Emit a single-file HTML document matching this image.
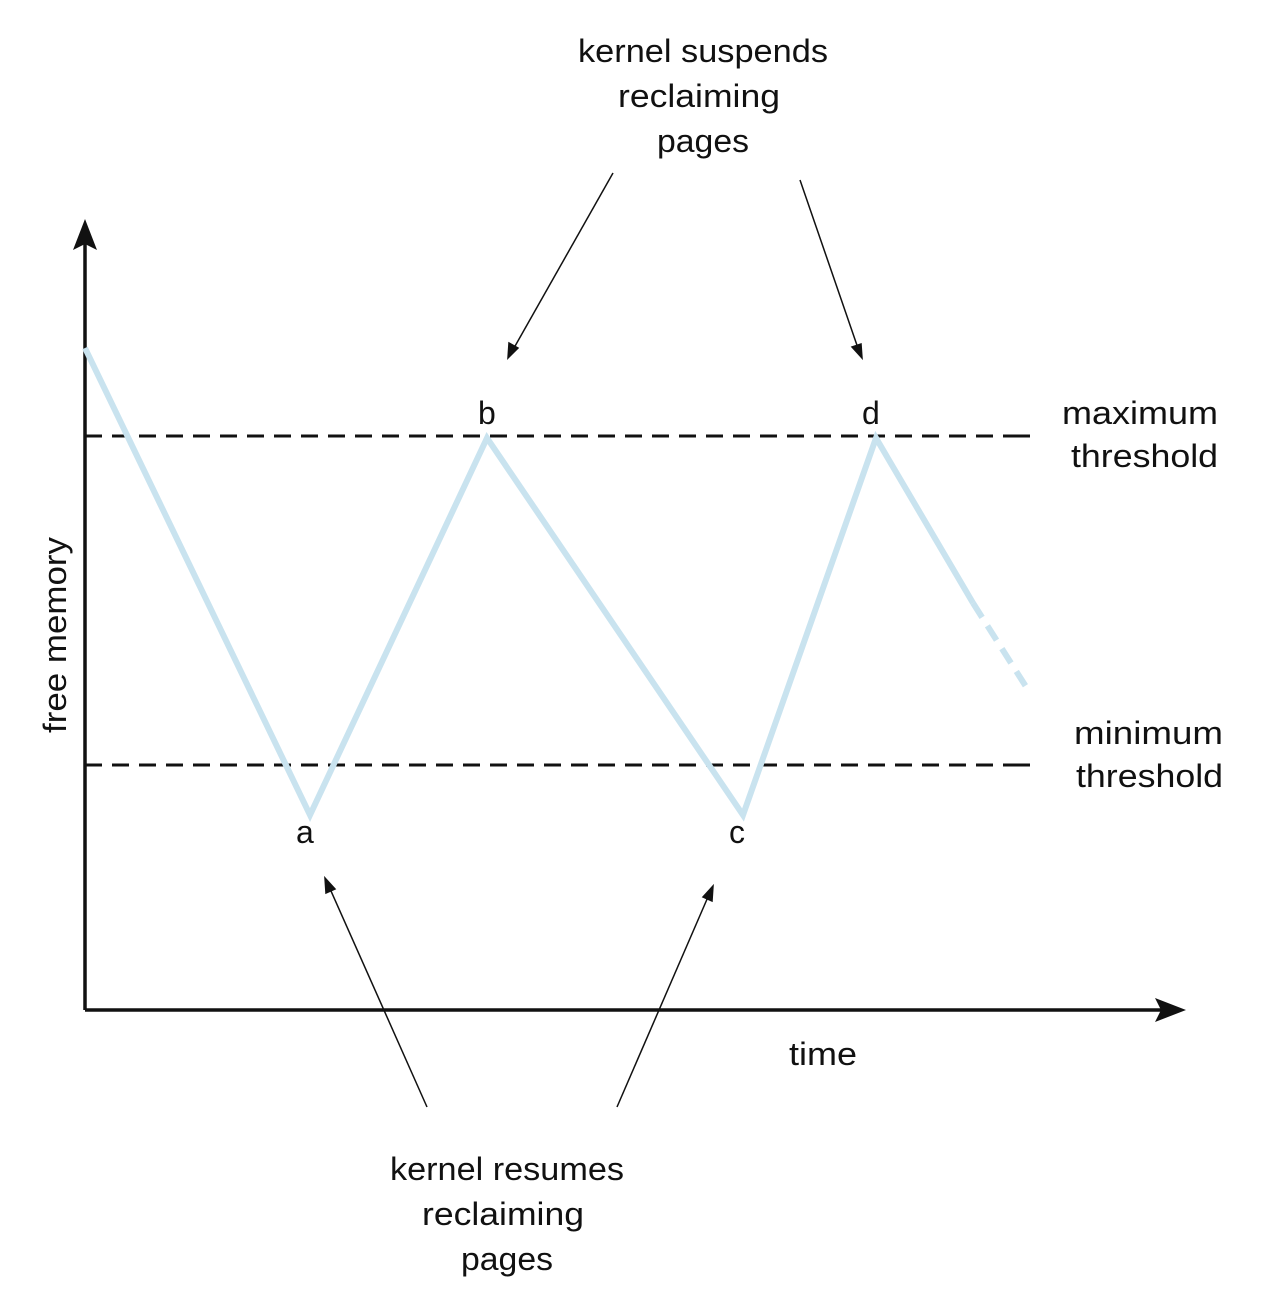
<!DOCTYPE html>
<html><head><style>body{margin:0;background:#fff}svg{display:block}text{font-family:"Liberation Sans",sans-serif;font-size:32px;fill:#111}</style></head>
<body>
<svg width="1270" height="1312" viewBox="0 0 1270 1312">
<g stroke="#111" stroke-width="3.5" fill="none">
<line x1="85" y1="1010" x2="85" y2="240"/>
<line x1="85" y1="1010" x2="1165" y2="1010"/>
</g>
<path d="M85,219 L97,250 L85,244 L73,250z" fill="#111"/>
<path d="M1186,1010 L1155,998 L1161,1010 L1155,1022z" fill="#111"/>
<g stroke="#111" stroke-width="3" stroke-dasharray="17,10">
<line x1="85" y1="436" x2="1030" y2="436"/>
<line x1="85" y1="765" x2="1030" y2="765"/>
<line x1="1018" y1="436" x2="1030" y2="436" stroke-dasharray="none"/>
<line x1="1018" y1="765" x2="1030" y2="765" stroke-dasharray="none"/>
</g>
<g stroke="#c9e3ef" stroke-width="6" fill="none">
<polyline points="85,348 310,815 487,438 743,815 876,438 973,603"/>
<line x1="973" y1="603" x2="1030" y2="693" stroke-dasharray="17,10"/>
</g>
<g stroke="#111" stroke-width="1.5">
<line x1="613" y1="173" x2="510" y2="355"/>
<path d="M508,358 L509,343 L518,348z" fill="#111"/>
<line x1="800" y1="180" x2="860" y2="354"/>
<path d="M862,358 L852,347 L861,344z" fill="#111"/>
<line x1="427" y1="1107" x2="327" y2="882"/>
<path d="M325,878 L335,889 L326,893z" fill="#111"/>
<line x1="617" y1="1107" x2="711" y2="890"/>
<path d="M713,886 L712,901 L703,897z" fill="#111"/>
</g>
<g lengthAdjust="spacingAndGlyphs">
<text x="478" y="424">b</text>
<text x="862" y="424">d</text>
<text x="296" y="843">a</text>
<text x="729" y="843">c</text>
<text x="1062" y="424" textLength="156" lengthAdjust="spacingAndGlyphs">maximum</text>
<text x="1071" y="467" textLength="147" lengthAdjust="spacingAndGlyphs">threshold</text>
<text x="1074" y="744" textLength="149" lengthAdjust="spacingAndGlyphs">minimum</text>
<text x="1076" y="787" textLength="147" lengthAdjust="spacingAndGlyphs">threshold</text>
<text x="578" y="62" textLength="250" lengthAdjust="spacingAndGlyphs">kernel suspends</text>
<text x="618" y="107" textLength="162" lengthAdjust="spacingAndGlyphs">reclaiming</text>
<text x="657" y="152" textLength="92" lengthAdjust="spacingAndGlyphs">pages</text>
<text x="390" y="1180" textLength="234" lengthAdjust="spacingAndGlyphs">kernel resumes</text>
<text x="422" y="1225" textLength="162" lengthAdjust="spacingAndGlyphs">reclaiming</text>
<text x="461" y="1270" textLength="92" lengthAdjust="spacingAndGlyphs">pages</text>
<text x="789" y="1065" textLength="68" lengthAdjust="spacingAndGlyphs">time</text>
<text transform="translate(66,733) rotate(-90)" textLength="196" lengthAdjust="spacingAndGlyphs">free memory</text>
</g>
</svg>
</body></html>
